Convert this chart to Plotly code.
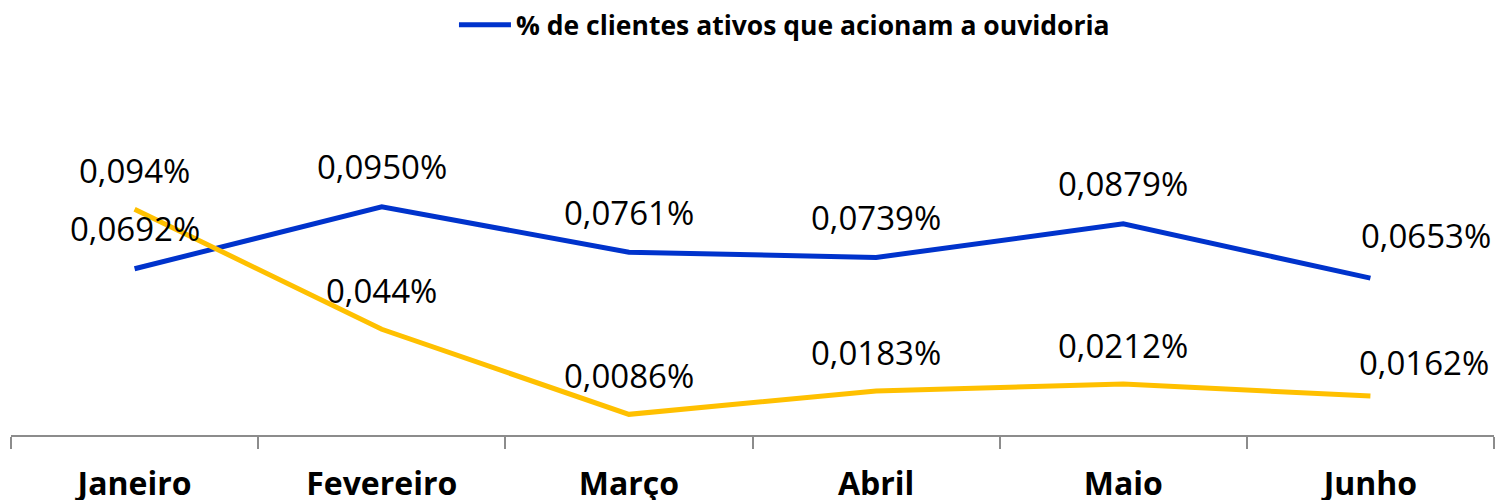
import plotly.graph_objects as go

months = ["Janeiro", "Fevereiro", "Março", "Abril", "Maio", "Junho"]
blue_name = "% de clientes ativos que acionam a ouvidoria"
blue_vals = [0.0692, 0.0950, 0.0761, 0.0739, 0.0879, 0.0653]
blue_labels = ["0,0692%", "0,0950%", "0,0761%", "0,0739%", "0,0879%", "0,0653%"]
yellow_vals = [0.094, 0.044, 0.0086, 0.0183, 0.0212, 0.0162]
yellow_labels = ["0,094%", "0,044%", "0,0086%", "0,0183%", "0,0212%", "0,0162%"]

BLUE = "#0033CC"
YELLOW = "#FFC000"
FONT = "Open Sans"

fig = go.Figure()
fig.add_trace(go.Scatter(x=months, y=blue_vals, mode="lines", name=blue_name,
                         line=dict(color=BLUE, width=5), hoverinfo="skip"))
fig.add_trace(go.Scatter(x=months, y=yellow_vals, mode="lines", showlegend=False,
                         line=dict(color=YELLOW, width=5), hoverinfo="skip"))

annotations = []
for i, (m, v, t) in enumerate(zip(months, blue_vals, blue_labels)):
    last = i == len(months) - 1
    annotations.append(dict(x=m, y=v, text=t, showarrow=False, xref="x", yref="y",
                            xanchor="center", yanchor="middle",
                            xshift=56 if last else 0, yshift=43 if last else 40,
                            font=dict(family=FONT, size=33, color="#000000")))
for i, (m, v, t) in enumerate(zip(months, yellow_vals, yellow_labels)):
    last = i == len(months) - 1
    annotations.append(dict(x=m, y=v, text=t, showarrow=False, xref="x", yref="y",
                            xanchor="center", yanchor="middle",
                            xshift=54 if last else 0, yshift=34 if last else 39,
                            font=dict(family=FONT, size=33, color="#000000")))

fig.update_layout(
    width=1495, height=500,
    margin=dict(l=11, r=1, t=100, b=65, autoexpand=False),
    paper_bgcolor="white", plot_bgcolor="white",
    showlegend=True,
    legend=dict(orientation="h", x=0.2987, xanchor="left", y=0.95, yanchor="middle",
                yref="container", itemwidth=52,
                font=dict(family=FONT, size=26.5, color="#000000", weight="bold"),
                bgcolor="rgba(0,0,0,0)"),
    annotations=annotations,
    xaxis=dict(type="category", range=[-0.5, 5.5], showgrid=False, zeroline=False,
               showline=True, linecolor="#8C8C8C", linewidth=2, automargin=False,
               ticks="outside", tickson="boundaries", ticklen=12, tickwidth=2,
               tickcolor="#8C8C8C", ticklabelstandoff=20,
               tickfont=dict(family=FONT, size=32, color="#000000", weight="bold"),
               fixedrange=True),
    yaxis=dict(range=[0, 0.13946], visible=False, showgrid=False, zeroline=False,
               automargin=False, fixedrange=True),
)

fig.write_html("out.html", config={"displayModeBar": False},
               post_script="document.body.style.margin='0px';document.body.style.overflow='hidden';")
